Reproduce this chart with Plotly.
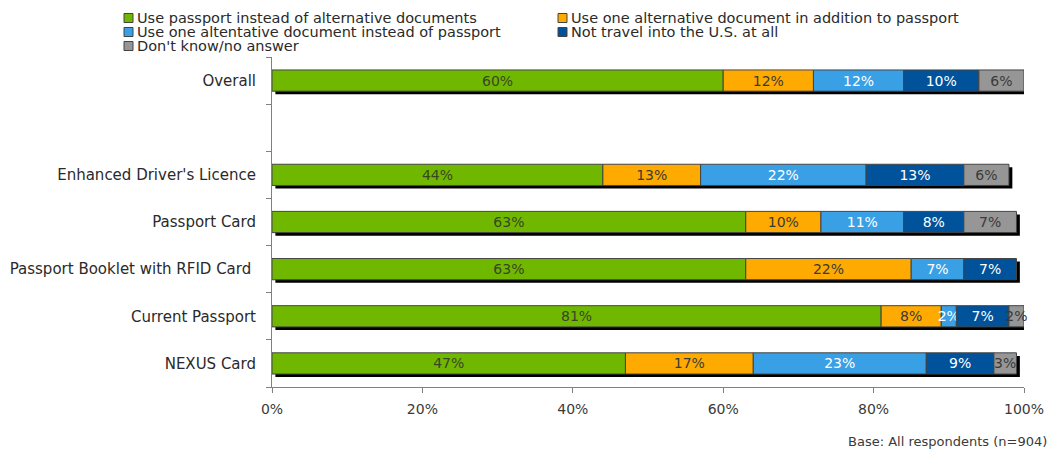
import numpy as np
import plotly.graph_objects as go

categories = ["Overall", "", "Enhanced Driver's Licence", "Passport Card",
              "Passport Booklet with RFID Card\u00a0", "Current Passport", "NEXUS Card"]
series_names = ["Use passport instead of alternative documents",
                "Use one alternative document in addition to passport",
                "Use one altentative document instead of passport",
                "Not travel into the U.S. at all",
                "Don't know/no answer"]
use_passport = [60, None, 44, 63, 63, 81, 47]
alt_plus_passport = [12, None, 13, 10, 22, 8, 17]
alt_instead = [12, None, 22, 11, 7, 2, 23]
not_travel = [10, None, 13, 8, 7, 7, 9]
dont_know = [6, None, 6, 7, 0, 2, 3]
series_values = [use_passport, alt_plus_passport, alt_instead, not_travel, dont_know]
colors = ["#70B800", "#FFAA00", "#3AA0E6", "#00529B", "#969696"]
text_colors = ["#3a4426", "#3a3a3a", "#ffffff", "#ffffff", "#3a3a3a"]
x_ticks = [0, 20, 40, 60, 80, 100]
x_tick_labels = ["0%", "20%", "40%", "60%", "80%", "100%"]

font_family = "DejaVu Sans, Verdana, sans-serif"
W, H = 1051, 450
ML, MR, MT, MB = 272, 27, 57, 63
PW, PH = W - ML - MR, H - MT - MB

ypos = np.arange(len(categories), dtype=float)
valid = np.array([v is not None for v in use_passport])
vals = np.array([[0 if v is None else v for v in s] for s in series_values], dtype=float)
bases = np.vstack([np.zeros(vals.shape[1]), np.cumsum(vals, axis=0)[:-1]])
totals = vals.sum(axis=0)

bar_w = 0.45
fig = go.Figure()
# drop shadow
fig.add_trace(go.Bar(
    y=ypos[valid], x=totals[valid], base=0.45, orientation="h",
    width=bar_w, offset=-bar_w / 2 + 0.065,
    marker=dict(color="#000000", line=dict(width=0)),
    showlegend=False, hoverinfo="skip"))
for i, name in enumerate(series_names):
    m = valid & (vals[i] > 0)
    fig.add_trace(go.Bar(
        y=ypos[m], x=vals[i][m], base=bases[i][m], orientation="h",
        width=bar_w, offset=-bar_w / 2,
        name=name, showlegend=False,
        marker=dict(color=colors[i], line=dict(color="#444444", width=1)),
        text=[f"{int(v)}%" for v in vals[i][m]],
        textposition="inside", insidetextanchor="middle", textangle=0,
        constraintext="none", cliponaxis=False,
        textfont=dict(color=text_colors[i], size=14, family=font_family),
    ))

# legend drawn in two columns (pixel layout converted to paper coordinates)
def px_x(p):
    return (p - ML) / PW

def px_y(p):
    return (H - MB - p) / PH

legend_cells = [(124, 18), (558, 18), (124, 32), (558, 32), (124, 46)]
shapes, annotations = [], []
for i, name in enumerate(series_names):
    lx, ly = legend_cells[i]
    shapes.append(dict(type="rect", xref="paper", yref="paper",
                       x0=px_x(lx), x1=px_x(lx + 9), y0=px_y(ly + 4.5), y1=px_y(ly - 4.5),
                       fillcolor=colors[i], line=dict(color="#444444", width=1)))
    annotations.append(dict(text=name, xref="paper", yref="paper",
                            x=px_x(lx + 11), y=px_y(ly), xanchor="left", yanchor="middle",
                            showarrow=False, font=dict(size=14.5, color="#2a2a2a")))
annotations.append(dict(text="Base: All respondents (n=904)", xref="paper",
                        yref="paper", x=px_x(1049), y=px_y(441), xanchor="right",
                        yanchor="middle", showarrow=False,
                        font=dict(size=13, color="#3a3a3a")))

fig.update_layout(
    width=W, height=H,
    barmode="overlay",
    plot_bgcolor="white", paper_bgcolor="white",
    margin=dict(l=ML, r=MR, t=MT, b=MB, autoexpand=False),
    font=dict(family=font_family, size=14, color="#3a3a3a"),
    showlegend=False,
    xaxis=dict(range=[0, 100], tickvals=x_ticks, ticktext=x_tick_labels,
               showgrid=False, zeroline=False, showline=True,
               linecolor="#808080", linewidth=1, ticks="outside", ticklen=5,
               tickcolor="#808080", ticklabelstandoff=4, automargin=False,
               tickfont=dict(size=14, color="#3a3a3a")),
    yaxis=dict(range=[len(categories) - 0.5, -0.5], tickvals=list(ypos),
               ticktext=categories, showgrid=False, zeroline=False,
               showline=True, linecolor="#808080", linewidth=1,
               ticks="", ticklen=0, ticklabelstandoff=12, automargin=False,
               minor=dict(tickvals=list(np.arange(-0.5, len(categories), 1.0)),
                          ticks="outside", ticklen=5, tickcolor="#808080"),
               tickfont=dict(size=15, color="#2a2a2a")),
    shapes=shapes,
    annotations=annotations,
)
fig.write_html("out.html", config={"displayModeBar": False},
               post_script="document.body.style.margin='0';document.body.style.padding='0';")
